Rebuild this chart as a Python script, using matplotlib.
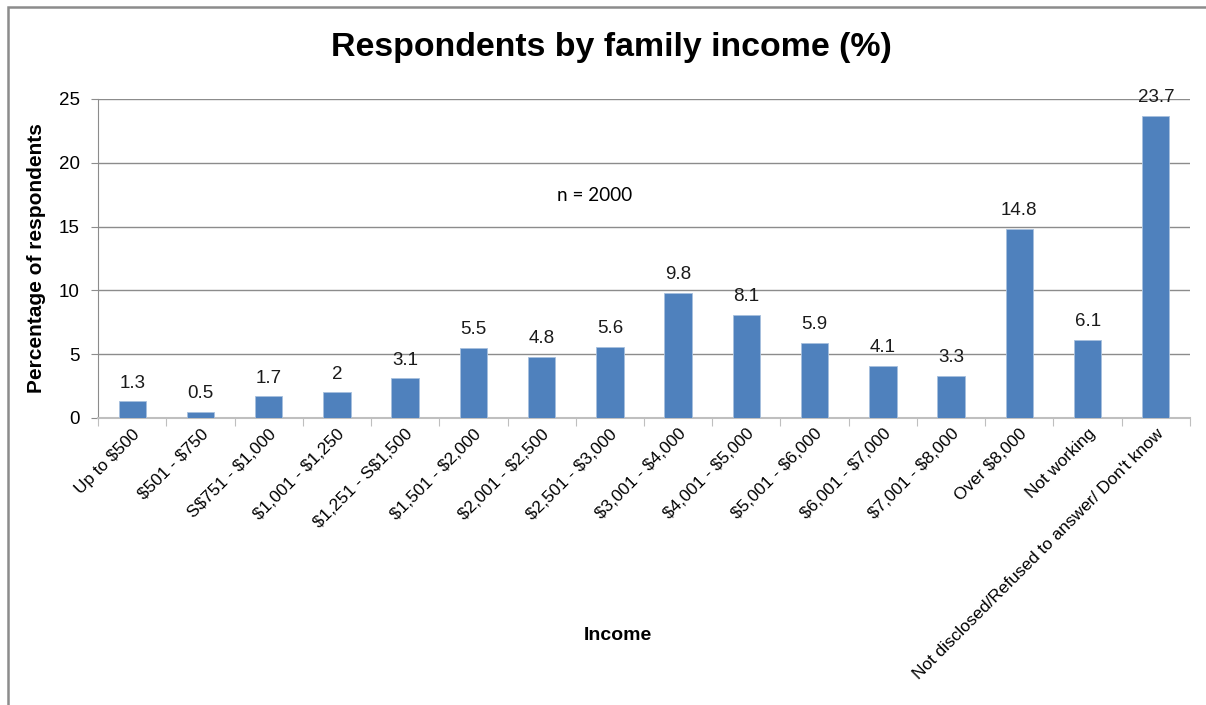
import matplotlib
matplotlib.use('Agg')
import matplotlib.pyplot as plt
from matplotlib.patches import Rectangle
import numpy as np

categories = ['Up to $500', '$501 - $750', 'S$751 - $1,000', '$1,001 - $1,250',
              '$1,251 - S$1,500', '$1,501 - $2,000', '$2,001 - $2,500',
              '$2,501 - $3,000', '$3,001 - $4,000', '$4,001 - $5,000',
              '$5,001 - $6,000', '$6,001 - $7,000', '$7,001 - $8,000',
              'Over $8,000', 'Not working',
              "Not disclosed/Refused to answer/ Don't know"]
percent = [1.3, 0.5, 1.7, 2, 3.1, 5.5, 4.8, 5.6, 9.8, 8.1, 5.9, 4.1, 3.3,
           14.8, 6.1, 23.7]
yticks = [0, 5, 10, 15, 20, 25]

plt.rcParams['font.family'] = ['Liberation Sans', 'DejaVu Sans']
plt.rcParams['text.parse_math'] = False  # labels are full of dollar signs

fig = plt.figure(figsize=(12.06, 7.05), dpi=100)
ax = fig.add_axes([0.0813, 0.4071, 0.9054, 0.4525])

x = np.arange(len(categories))
ax.bar(x, percent, width=0.4, color='#4F81BD', edgecolor='#A7C0DE',
       linewidth=0.6, zorder=3)
for xi, v in zip(x, percent):
    ax.annotate(f'{v:g}', (xi, v), xytext=(0, 7), textcoords='offset points',
                ha='center', va='bottom', fontsize=13.5, color='#1a1a1a')

ax.set_xlim(-0.5, len(categories) - 0.5)
ax.set_ylim(0, 25)
ax.set_yticks(yticks)
ax.yaxis.grid(True, color='#8c8c8c', linewidth=1.0, zorder=0)
ax.set_axisbelow(True)

# category boundaries carry the tick marks
ax.set_xticks(np.arange(-0.5, len(categories)), minor=False)
ax.set_xticklabels([])
ax.set_xticks(x, minor=True)
ax.set_xticklabels(categories, minor=True, rotation=45, ha='right',
                   rotation_mode='anchor', fontsize=12.4)
ax.tick_params(axis='x', which='major', length=6, color='#bfbfbf', direction='out')
ax.tick_params(axis='x', which='minor', length=0, pad=6)
ax.tick_params(axis='y', length=5, color='#8c8c8c', labelsize=13.5, pad=8)

for side in ['top', 'right']:
    ax.spines[side].set_visible(False)
ax.spines['left'].set_color('#8c8c8c')
ax.spines['bottom'].set_color('#bfbfbf')
ax.spines['bottom'].set_linewidth(1.5)

fig.text(0.030, 0.6333, 'Percentage of respondents', rotation=90, ha='center',
         va='center', fontsize=15, fontweight='bold')
fig.text(0.5125, 0.099, 'Income', ha='center', va='center', fontsize=14,
         fontweight='bold')
fig.text(0.507, 0.933, 'Respondents by family income (%)', ha='center',
         va='center', fontsize=24.4, fontweight='bold')
ax.text(6.78, 17.4, 'n = 2000', ha='center', va='center', fontsize=13.6,
        family=['Lato', 'DejaVu Sans'])

# chart frame
fig.patches.append(Rectangle((8 / 1206, -0.05), 1.2, 1 - 7 / 705 + 0.05,
                             transform=fig.transFigure, fill=False,
                             edgecolor='#8c8c8c', linewidth=1.8))

fig.savefig('out.png', dpi=100)
